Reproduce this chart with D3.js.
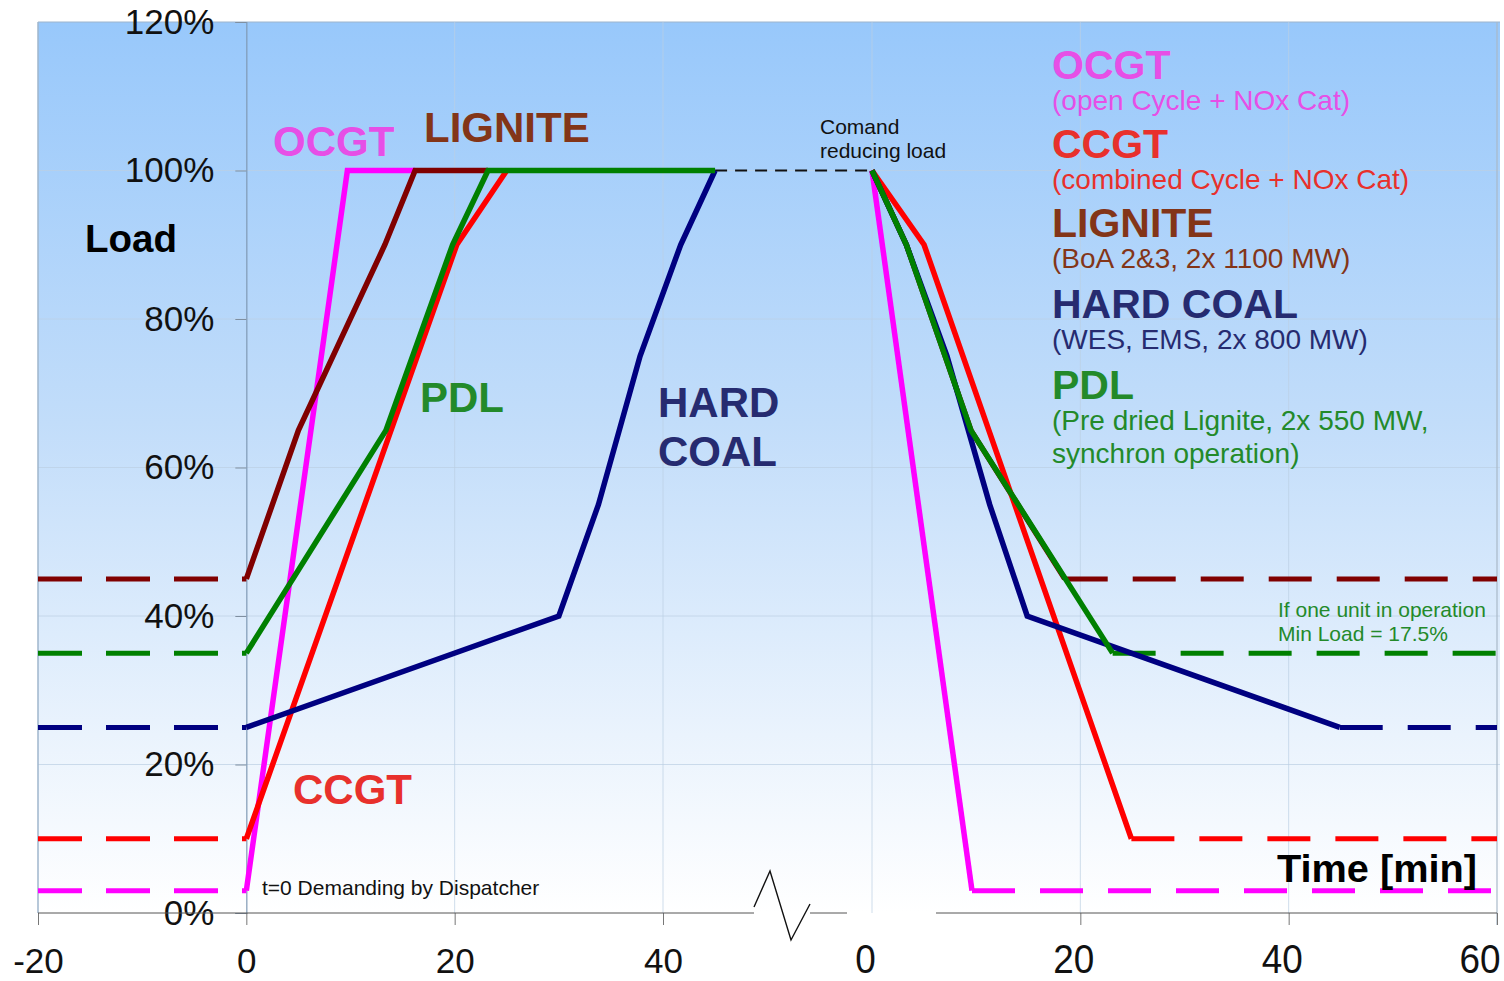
<!DOCTYPE html>
<html>
<head>
<meta charset="utf-8">
<script src="https://cdn.jsdelivr.net/npm/d3@7"></script>
<style>
  html, body { margin: 0; padding: 0; background: #ffffff; }
  svg { display: block; }
  text { font-family: "Liberation Sans", Arial, sans-serif; }
</style>
</head>
<body>
<svg id="chart" width="1504" height="981"></svg>
<script>
// ---------------- DATA ----------------
const seriesNames = ["OCGT", "CCGT", "LIGNITE", "HARD COAL", "PDL"];
const minLoad = [3, 10, 45, 25, 35];            // % load before start / after shut-down
// start-up ramps (time in min after dispatcher demand, load %)
const startOCGT     = [[0, 3], [9.7, 100], [16.2, 100]];
const startCCGT     = [[0, 10], [20.2, 90], [25, 100]];
const startLIGNITE  = [[0, 45], [5, 65], [13.3, 90], [16.2, 100], [23.2, 100]];
const startHARDCOAL = [[0, 25], [30, 40], [33.8, 55], [37.8, 75], [41.7, 90], [45, 100]];
const startPDL      = [[0, 35], [13.4, 65], [19.8, 90], [23.2, 100], [45, 100]];
// shut-down ramps (time in min after command reducing load, load %)
const stopOCGT      = [[0, 100], [9.6, 3]];
const stopCCGT      = [[0, 100], [5, 90], [24.9, 10]];
const stopLIGNITE   = [[0, 100], [3.3, 90], [9.5, 65], [18.5, 45]];
const stopHARDCOAL  = [[0, 100], [3.3, 90], [7.2, 75], [11.3, 55], [14.9, 40], [44.9, 25]];
const stopPDL       = [[0, 100], [3.3, 90], [9.5, 65], [23.1, 35]];
const leftTicks  = [-20, 0, 20, 40];
const rightTicks = [0, 20, 40, 60];
const yTicks     = [0, 20, 40, 60, 80, 100, 120];
const legendSub  = [["(open Cycle + NOx Cat)"], ["(combined Cycle + NOx Cat)"], ["(BoA 2&3, 2x 1100 MW)"],
                    ["(WES, EMS, 2x 800 MW)"], ["(Pre dried Lignite, 2x 550 MW,", "synchron operation)"]];
const commandLoad = 100;   // load at which the reducing command is given
const commandFromT = 45;   // end of start-up window (min)

// ---------------- STYLE ----------------
const lineColors = {"OCGT": "#ff00ff", "CCGT": "#ff0000", "LIGNITE": "#800000", "HARD COAL": "#000080", "PDL": "#008000"};
const textColors = {"OCGT": "#e64fe6", "CCGT": "#e8302c", "LIGNITE": "#833518", "HARD COAL": "#262b70", "PDL": "#238a2a"};

const svg = d3.select("#chart");
const xL = d3.scaleLinear().domain([-20, 40]).range([38, 663]);
const xR = d3.scaleLinear().domain([0, 60]).range([872, 1497]);
const y  = d3.scaleLinear().domain([0, 120]).range([913, 22]);

// background gradient
const defs = svg.append("defs");
const grad = defs.append("linearGradient").attr("id", "bg").attr("x1", 0).attr("y1", 0).attr("x2", 0).attr("y2", 1);
grad.append("stop").attr("offset", "0%").attr("stop-color", "#98c8fb");
grad.append("stop").attr("offset", "45%").attr("stop-color", "#c2ddfa");
grad.append("stop").attr("offset", "80%").attr("stop-color", "#eaf3fd");
grad.append("stop").attr("offset", "100%").attr("stop-color", "#ffffff");
svg.append("rect").attr("x", 38).attr("y", y(120)).attr("width", 1462).attr("height", y(0) - y(120)).attr("fill", "url(#bg)");

// gridlines
const grid = svg.append("g");
yTicks.filter(d => d > 0).forEach(d => {
  grid.append("line").attr("x1", 38).attr("x2", 1500).attr("y1", y(d)).attr("y2", y(d))
    .attr("stroke", d === 120 ? "#9db4cc" : "#bcd0e4").attr("stroke-width", 1).attr("opacity", d === 120 ? 1 : 0.7);
});
[xL(20), xL(40), xR(0), xR(20), xR(40)].forEach(px => {
  grid.append("line").attr("x1", px).attr("x2", px).attr("y1", y(120)).attr("y2", y(0))
    .attr("stroke", "#bcd0e4").attr("stroke-width", 1).attr("opacity", 0.7);
});
grid.append("line").attr("x1", 38).attr("x2", 38).attr("y1", y(120)).attr("y2", y(0)).attr("stroke", "#9fb6cd").attr("stroke-width", 1.5);
grid.append("line").attr("x1", xR(60)).attr("x2", xR(60)).attr("y1", y(120)).attr("y2", y(0) + 12).attr("stroke", "#a9b9c9").attr("stroke-width", 1.2);

// y axis
const yAxis = svg.append("g").attr("transform", `translate(${xL(0)},0)`)
  .call(d3.axisLeft(y).tickValues(yTicks).tickFormat(d => d + "%").tickSize(11).tickPadding(21));
yAxis.select(".domain").attr("stroke", "#7f99b5").attr("stroke-width", 1.2);
yAxis.selectAll(".tick line").attr("stroke", "#7f8fa0");
yAxis.selectAll(".tick text").attr("font-size", 35).attr("fill", "#111").attr("font-family", "Liberation Sans, Arial, sans-serif");

// x axes
const xAxisL = svg.append("g").attr("transform", `translate(0,${y(0)})`)
  .call(d3.axisBottom(xL).tickValues(leftTicks).tickFormat(d => String(d)).tickSize(12).tickSizeOuter(0));
xAxisL.select(".domain").remove();
xAxisL.append("line").attr("x1", xL(-20)).attr("x2", 754).attr("y1", 0).attr("y2", 0).attr("stroke", "#555");
xAxisL.append("line").attr("x1", 810).attr("x2", 847).attr("y1", 0).attr("y2", 0).attr("stroke", "#555");
xAxisL.selectAll(".tick line").attr("stroke", "#777");
xAxisL.selectAll(".tick text").attr("font-size", 35).attr("fill", "#111").attr("y", 60).attr("dy", 0)
  .attr("font-family", "Liberation Sans, Arial, sans-serif");

const xAxisR = svg.append("g").attr("transform", `translate(0,${y(0)})`)
  .call(d3.axisBottom(xR).tickValues(rightTicks).tickFormat(d => String(d)).tickSize(12).tickSizeOuter(0));
xAxisR.select(".domain").remove();
xAxisR.append("line").attr("x1", 936).attr("x2", xR(60)).attr("y1", 0).attr("y2", 0).attr("stroke", "#555");
xAxisR.selectAll(".tick line").attr("stroke", "#777").attr("opacity", d => d === 0 ? 0 : 1);
xAxisR.selectAll(".tick text").attr("font-size", 41).attr("fill", "#111").attr("y", 0).attr("dy", 0)
  .attr("font-family", "Liberation Sans, Arial, sans-serif")
  .attr("text-anchor", d => d === 60 ? "end" : "middle")
  .attr("transform", d => d === 60 ? "translate(3,60) scale(0.9,1)" : "translate(-7,60) scale(0.9,1)")
  .attr("x", null);

// axis break zigzag
svg.append("polyline").attr("points", "754,907 770,871 791,940 810,904")
  .attr("fill", "none").attr("stroke", "#111").attr("stroke-width", 1.4);

// lines
const lineL = d3.line().x(d => xL(d[0])).y(d => y(d[1]));
const lineR = d3.line().x(d => xR(d[0])).y(d => y(d[1]));
const startData = {"OCGT": startOCGT, "CCGT": startCCGT, "LIGNITE": startLIGNITE, "HARD COAL": startHARDCOAL, "PDL": startPDL};
const stopData  = {"OCGT": stopOCGT, "CCGT": stopCCGT, "LIGNITE": stopLIGNITE, "HARD COAL": stopHARDCOAL, "PDL": stopPDL};
const drawOrder = ["OCGT", "LIGNITE", "CCGT", "HARD COAL", "PDL"];
const marks = svg.append("g").attr("fill", "none").attr("stroke-width", 5.5).attr("stroke-linejoin", "miter");

// command dashed connector
marks.append("line").attr("x1", xL(commandFromT)).attr("x2", xR(0)).attr("y1", y(commandLoad)).attr("y2", y(commandLoad))
  .attr("stroke", "#111").attr("stroke-width", 1.8).attr("stroke-dasharray", "12,8");

drawOrder.forEach(name => {
  const i = seriesNames.indexOf(name);
  const m = minLoad[i];
  const col = lineColors[name];
  const st = stopData[name];
  // dashed min load before start
  marks.append("path").attr("d", lineL([[-20, m], [0, m]])).attr("stroke", col).attr("stroke-dasharray", "44,24").attr("stroke-width", 5);
  // dashed min load after shut-down
  marks.append("path").attr("d", lineR([[st[st.length - 1][0], m], [60, m]])).attr("stroke", col).attr("stroke-dasharray", "43,25").attr("stroke-width", 5);
});
drawOrder.forEach(name => {
  const col = lineColors[name];
  marks.append("path").attr("d", lineL(startData[name])).attr("stroke", col);
  marks.append("path").attr("d", lineR(stopData[name])).attr("stroke", col);
});

// in-plot labels
const lab = svg.append("g").attr("font-weight", "bold").attr("font-size", 42);
lab.append("text").attr("x", 273).attr("y", 156).attr("fill", textColors["OCGT"]).text("OCGT");
lab.append("text").attr("x", 424).attr("y", 142).attr("fill", textColors["LIGNITE"]).text("LIGNITE");
lab.append("text").attr("x", 420).attr("y", 412).attr("fill", textColors["PDL"]).text("PDL");
lab.append("text").attr("x", 658).attr("y", 417).attr("fill", textColors["HARD COAL"]).text("HARD");
lab.append("text").attr("x", 658).attr("y", 466).attr("fill", textColors["HARD COAL"]).text("COAL");
lab.append("text").attr("x", 293).attr("y", 804).attr("fill", textColors["CCGT"]).text("CCGT");

// legend
const leg = svg.append("g");
const titleY = [79, 158, 237, 318, 399];
seriesNames.forEach((name, i) => {
  leg.append("text").attr("x", 1052).attr("y", titleY[i]).attr("font-size", 41).attr("font-weight", "bold")
    .attr("fill", textColors[name]).text(name);
  legendSub[i].forEach((s, j) => {
    leg.append("text").attr("x", 1052).attr("y", titleY[i] + 31 + j * 33).attr("font-size", 28)
      .attr("fill", textColors[name]).text(s);
  });
});

// annotations
const ann = svg.append("g").attr("font-size", 21);
ann.append("text").attr("x", 820).attr("y", 134).attr("fill", "#111").text("Comand");
ann.append("text").attr("x", 820).attr("y", 158).attr("fill", "#111").text("reducing load");
ann.append("text").attr("x", 262).attr("y", 895).attr("fill", "#111").text("t=0 Demanding by Dispatcher");
ann.append("text").attr("x", 1278).attr("y", 617).attr("fill", textColors["PDL"]).text("If one unit in operation");
ann.append("text").attr("x", 1278).attr("y", 641).attr("fill", textColors["PDL"]).text("Min Load = 17.5%");

// axis titles
svg.append("text").attr("x", 85).attr("y", 252).attr("font-family", "Open Sans, sans-serif").attr("font-weight", 700)
  .attr("font-size", 38).attr("fill", "#000").attr("textLength", 92).attr("lengthAdjust", "spacingAndGlyphs").text("Load");
svg.append("text").attr("x", 1277).attr("y", 882).attr("font-family", "Open Sans, sans-serif").attr("font-weight", 700)
  .attr("font-size", 38).attr("fill", "#000").attr("textLength", 200).attr("lengthAdjust", "spacingAndGlyphs").text("Time [min]");
</script>
</body>
</html>
